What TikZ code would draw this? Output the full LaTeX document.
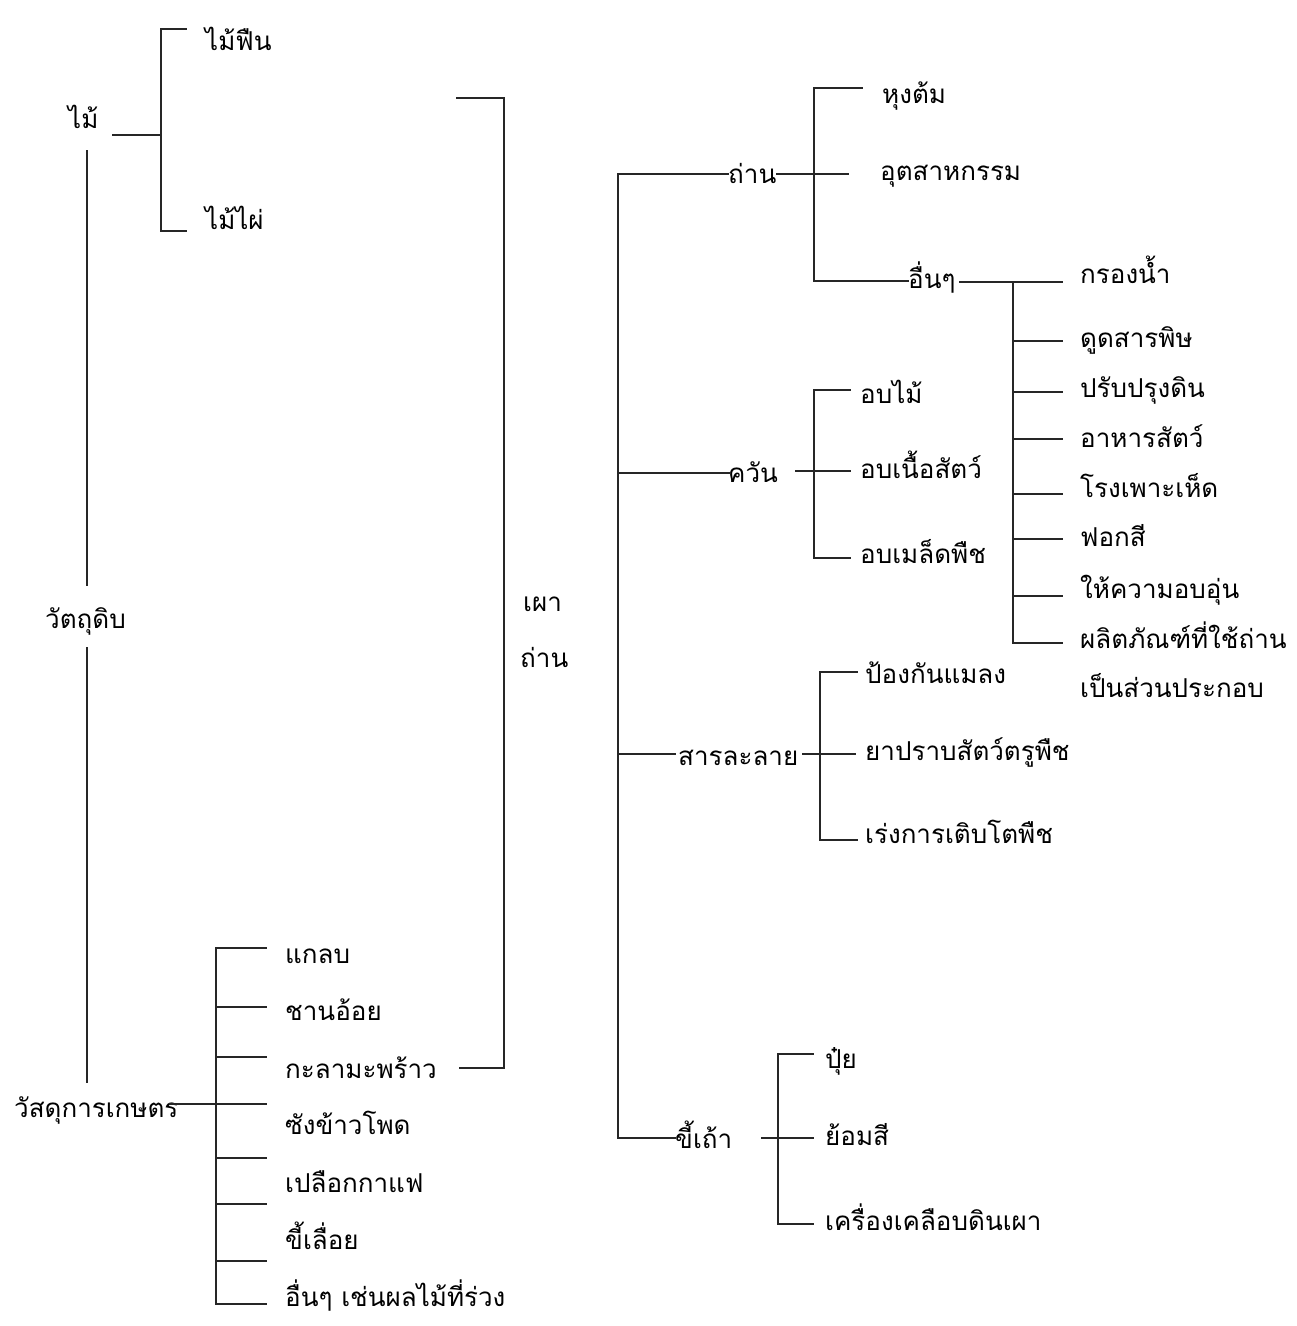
\documentclass[tikz,border=0pt]{standalone}
\usepackage{fontspec}
\newfontfamily\thaifont[Script=Thai]{Loma}
\begin{document}
\begin{tikzpicture}[x=1pt,y=-1pt,
  lbl/.style={anchor=base west, inner sep=0pt, font=\thaifont\fontsize{26}{30}\selectfont},
  ln/.style={draw=black!85, line width=1.6pt, line cap=rect}]
\useasboundingbox[fill=white] (0,0) rectangle (1297,1326);

% ---------- text nodes ----------
\node[lbl] (mai)    at (68,128)  {ไม้};
\node[lbl] (maifuen) at (205,50) {ไม้ฟืน};
\node[lbl] (maiphai) at (205,229) {ไม้ไผ่};
\node[lbl] (raw)    at (45,628)  {วัตถุดิบ};
\node[lbl] (agri)   at (14,1117) {วัสดุการเกษตร};
\node[lbl] (l1) at (285,963)  {แกลบ};
\node[lbl] (l2) at (285,1020) {ชานอ้อย};
\node[lbl] (l3) at (285,1078) {กะลามะพร้าว};
\node[lbl] (l4) at (285,1134) {ซังข้าวโพด};
\node[lbl] (l5) at (285,1192) {เปลือกกาแฟ};
\node[lbl] (l6) at (285,1249) {ขี้เลื่อย};
\node[lbl] (l7) at (285,1306) {อื่นๆ เช่นผลไม้ที่ร่วง};
\node[lbl] (burn1) at (523,611) {เผา};
\node[lbl] (burn2) at (520,667) {ถ่าน};

\node[lbl] (than)  at (728,183) {ถ่าน};
\node[lbl] (cook)  at (882,103) {หุงต้ม};
\node[lbl] (ind)   at (880,180) {อุตสาหกรรม};
\node[lbl] (other) at (908,288) {อื่นๆ};
\node[lbl] (o1) at (1080,283) {กรองน้ำ};
\node[lbl] (o2) at (1080,347) {ดูดสารพิษ};
\node[lbl] (o3) at (1080,397) {ปรับปรุงดิน};
\node[lbl] (o4) at (1080,447) {อาหารสัตว์};
\node[lbl] (o5) at (1080,497) {โรงเพาะเห็ด};
\node[lbl] (o6) at (1080,546) {ฟอกสี};
\node[lbl] (o7) at (1080,598) {ให้ความอบอุ่น};
\node[lbl] (o8) at (1080,648) {ผลิตภัณฑ์ที่ใช้ถ่าน};
\node[lbl] (o9) at (1080,697) {เป็นส่วนประกอบ};

\node[lbl] (smoke) at (728,482) {ควัน};
\node[lbl] (s1) at (860,403) {อบไม้};
\node[lbl] (s2) at (860,478) {อบเนื้อสัตว์};
\node[lbl] (s3) at (860,563) {อบเมล็ดพืช};

\node[lbl] (sol) at (678,765) {สารละลาย};
\node[lbl] (v1) at (865,683) {ป้องกันแมลง};
\node[lbl] (v2) at (865,760) {ยาปราบสัตว์ตรูพืช};
\node[lbl] (v3) at (865,843) {เร่งการเติบโตพืช};

\node[lbl] (ash) at (675,1148) {ขี้เถ้า};
\node[lbl] (a1) at (825,1068) {ปุ๋ย};
\node[lbl] (a2) at (825,1145) {ย้อมสี};
\node[lbl] (a3) at (825,1230) {เครื่องเคลือบดินเผา};

% ---------- coordinates ----------
\coordinate (mA) at (113,135); \coordinate (mJ) at (161,135);
\coordinate (mT) at (161,29);  \coordinate (mTe) at (186,29);
\coordinate (mB) at (161,231); \coordinate (mBe) at (186,231);
\coordinate (rA) at (87,151);  \coordinate (rB) at (87,585);
\coordinate (rC) at (87,648);  \coordinate (rD) at (87,1082);
\coordinate (gA) at (170,1104); \coordinate (gJ) at (216,1104);
\coordinate (gT) at (216,948);  \coordinate (gB) at (216,1304);
\coordinate (bT0) at (457,98); \coordinate (bT1) at (504,98);
\coordinate (bB1) at (504,1068); \coordinate (bB0) at (460,1068);
\coordinate (tTop) at (618,174); \coordinate (tBot) at (618,1138);

\coordinate (thL) at (728,174); \coordinate (thR) at (777,174);
\coordinate (thJ) at (814,174); \coordinate (thE) at (848,174);
\coordinate (thT) at (814,88);  \coordinate (thTe) at (862,88);
\coordinate (thB) at (814,281); \coordinate (thBe) at (908,281);
\coordinate (otR) at (960,282); \coordinate (otJ) at (1013,282);
\coordinate (otE) at (1062,282); \coordinate (otB) at (1013,643);

\coordinate (smA) at (618,473); \coordinate (smL) at (730,473);
\coordinate (smR) at (796,471); \coordinate (smE) at (850,471);
\coordinate (smT) at (814,390); \coordinate (smTe) at (850,390);
\coordinate (smB) at (814,558); \coordinate (smBe) at (850,558);

\coordinate (soA) at (618,754); \coordinate (soL) at (675,754);
\coordinate (soR) at (803,754); \coordinate (soE) at (855,754);
\coordinate (soT) at (820,672); \coordinate (soTe) at (857,672);
\coordinate (soB) at (820,840); \coordinate (soBe) at (857,840);

\coordinate (asL) at (675,1138);
\coordinate (asR) at (762,1138); \coordinate (asE) at (813,1138);
\coordinate (asT) at (778,1054); \coordinate (asTe) at (813,1054);
\coordinate (asB) at (778,1224); \coordinate (asBe) at (813,1224);

% ---------- connectors ----------
\draw[ln] (mA) -- (mJ);
\draw[ln] (mTe) -- (mT) -- (mB) -- (mBe);
\draw[ln] (rA) -- (rB);
\draw[ln] (rC) -- (rD);
\draw[ln] (gA) -- (gJ);
\draw[ln] (gT) -- (gB);
\foreach \y [count=\i] in {948,1007,1057,1104,1158,1204,1261,1304}{
  \coordinate (gs\i) at (216,\y); \coordinate (ge\i) at (266,\y);
  \draw[ln] (gs\i) -- (ge\i);
}
\draw[ln] (bT0) -- (bT1) -- (bB1) -- (bB0);
\draw[ln] (tTop) -- (tBot);

\draw[ln] (tTop) -- (thL);
\draw[ln] (thR) -- (thE);
\draw[ln] (thTe) -- (thT) -- (thB) -- (thBe);
\draw[ln] (otR) -- (otE);
\draw[ln] (otJ) -- (otB);
\foreach \y [count=\i] in {341,392,439,494,539,596,643}{
  \coordinate (os\i) at (1013,\y); \coordinate (oe\i) at (1062,\y);
  \draw[ln] (os\i) -- (oe\i);
}

\draw[ln] (smA) -- (smL);
\draw[ln] (smR) -- (smE);
\draw[ln] (smTe) -- (smT) -- (smB) -- (smBe);

\draw[ln] (soA) -- (soL);
\draw[ln] (soR) -- (soE);
\draw[ln] (soTe) -- (soT) -- (soB) -- (soBe);

\draw[ln] (tBot) -- (asL);
\draw[ln] (asR) -- (asE);
\draw[ln] (asTe) -- (asT) -- (asB) -- (asBe);
\end{tikzpicture}
\end{document}
